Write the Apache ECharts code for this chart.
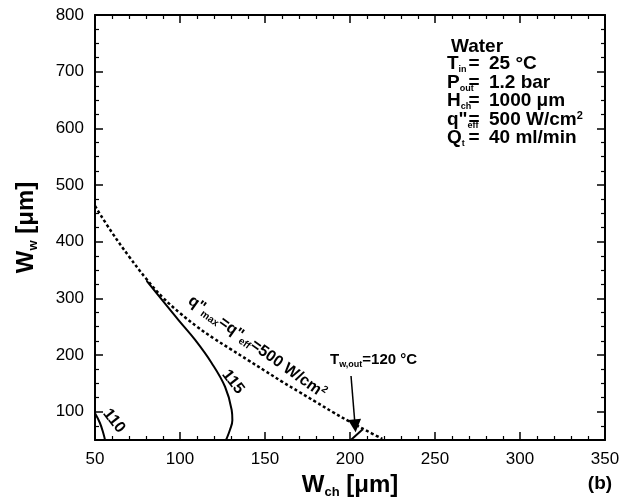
<!DOCTYPE html>
<html>
<head>
<meta charset="utf-8">
<script src="https://cdn.jsdelivr.net/npm/echarts@6/dist/echarts.min.js"></script>
<style>
html, body { margin: 0; padding: 0; background: #fff; }
#chart { width: 621px; height: 500px; }
</style>
</head>
<body>
<div id="chart"></div>
<script>
// curves, [W_ch, W_w] in um
let qmaxLine = [[50, 463], [60, 416], [70, 374], [80, 335], [90, 301], [100, 274], [110, 250], [120, 229],
                [130, 210], [140, 191], [150, 172], [160, 153], [170, 135], [180, 117], [190, 99], [200, 82],
                [210, 66], [219, 52]];
let t115 = [[80.4, 331], [89.2, 298], [99, 262], [108.8, 227], [118.6, 186], [126.5, 144], [130.4, 103],
            [130.8, 85], [129.4, 68], [127.5, 53], [126.8, 50]];
let t110 = [[50, 97], [52.9, 80], [54.9, 62], [55.9, 50]];
let t120 = [[200.5, 50], [207.5, 69]];
let arrow120 = [[200.6, 163], [203, 75]];

let infoNames = ['{m|T}{s|in}', '{m|P}{s|out}', '{m|H}{s|ch}', '{m|q"}{s|eff}', '{m|Q}{s|t}'];
let infoValues = ['25 °C', '1.2 bar', '1000 μm', '500 W/cm{p|2}', '40 ml/min'];

const FONT = '"Liberation Sans", Arial, Helvetica, sans-serif';

let chart = echarts.init(document.getElementById('chart'));

function frameAxis(pos, isX, showLabel) {
    let ax = {
        type: 'value',
        position: pos,
        min: 50,
        axisLine: { show: true, onZero: false, lineStyle: { color: '#000', width: 2 } },
        axisTick: { show: true, inside: true, length: 8, lineStyle: { color: '#000', width: 1.5 } },
        minorTick: { show: true, splitNumber: isX ? 5 : 4, length: 4, lineStyle: { color: '#000', width: 1.2 } },
        splitLine: { show: false },
        axisLabel: {
            show: showLabel,
            color: '#000',
            fontSize: 17,
            fontFamily: FONT,
            margin: 11,
            formatter: function (v) { return (!isX && v === 50) ? '' : v; }
        }
    };
    if (isX) {
        ax.max = 350;
        ax.interval = 50;
    } else {
        ax.max = 800;
        ax.splitNumber = 8;
        ax.minInterval = 100;
        ax.maxInterval = 100;
    }
    return ax;
}

let nameStyle = {
    color: '#000', fontFamily: FONT, fontWeight: 'bold', fontSize: 24,
    rich: { s: { fontFamily: FONT, fontWeight: 'bold', fontSize: 13, padding: [14, 0, 0, 0], color: '#000' } }
};
let xBottom = frameAxis('bottom', true, true);
xBottom.name = 'W{s|ch} [μm]';
xBottom.nameLocation = 'middle';
xBottom.nameGap = 32;
xBottom.nameTextStyle = nameStyle;
let yLeft = frameAxis('left', false, true);
yLeft.name = 'W{s|w} [μm]';
yLeft.nameLocation = 'middle';
yLeft.nameGap = 55;
yLeft.nameTextStyle = nameStyle;

function lineSeries(data, dashed) {
    return {
        type: 'line',
        data: data,
        smooth: 0.4,
        showSymbol: false,
        symbol: 'none',
        silent: true,
        lineStyle: { color: '#000', width: dashed ? 2.5 : 2, type: dashed ? [3, 2.5] : 'solid' }
    };
}

let subRich = {
    m: { fontFamily: FONT, fontWeight: 'bold', fontSize: 19, fill: '#000', color: '#000' },
    s: { fontFamily: FONT, fontWeight: 'bold', fontSize: 9, padding: [12, 0, 0, 0], fill: '#000', color: '#000' },
    p: { fontFamily: FONT, fontWeight: 'bold', fontSize: 11, verticalAlign: 'top', fill: '#000', color: '#000' }
};

function txt(x, y, text, size, align, rot, rich) {
    return {
        type: 'text', x: x, y: y, rotation: rot || 0, silent: true,
        style: {
            text: text, fill: '#000', fontFamily: FONT, fontWeight: 'bold', fontSize: size,
            align: align, textAlign: align, verticalAlign: 'middle', textVerticalAlign: 'middle',
            rich: rich
        }
    };
}

let graphics = [txt(477, 47, 'Water', 19, 'center')];
let rowY = [64, 83, 101, 120, 138];
for (let i = 0; i < infoNames.length; i++) {
    graphics.push(txt(447, rowY[i], infoNames[i], 19, 'left', 0, subRich));
    graphics.push(txt(474, rowY[i], '=', 19, 'center'));
    graphics.push(txt(489, rowY[i], infoValues[i], 19, 'left', 0, subRich));
}

let annRich = {
    m: { fontFamily: FONT, fontWeight: 'bold', fontSize: 16, fill: '#000', color: '#000' },
    s: { fontFamily: FONT, fontWeight: 'bold', fontSize: 10, padding: [9, 0, 0, 0], fill: '#000', color: '#000' },
    p: { fontFamily: FONT, fontWeight: 'bold', fontSize: 10, verticalAlign: 'top', fill: '#000', color: '#000' }
};
graphics.push(txt(257, 347, '{m|q"}{s|max}{m|=q"}{s|eff}{m|=500 W/cm}{p|2}', 16, 'center', -0.62, annRich));
graphics.push(txt(233, 382, '115', 16, 'center', -0.91));
graphics.push(txt(114, 421, '110', 16, 'center', -0.91));
let smallRich = {
    m: { fontFamily: FONT, fontWeight: 'bold', fontSize: 15, fill: '#000', color: '#000' },
    s: { fontFamily: FONT, fontWeight: 'bold', fontSize: 9, padding: [9, 0, 0, 0], fill: '#000', color: '#000' }
};
graphics.push(txt(330, 360, '{m|T}{s|w,out}{m|=120 °C}', 15, 'left', 0, smallRich));
graphics.push(txt(600, 484, '(b)', 19, 'center'));

chart.setOption({
    animation: false,
    backgroundColor: '#fff',
    grid: { left: 95, right: 16, top: 15, bottom: 60, containLabel: false, outerBoundsMode: 'none' },
    xAxis: [xBottom, frameAxis('top', true, false)],
    yAxis: [yLeft, frameAxis('right', false, false)],
    series: [
        lineSeries(qmaxLine, true),
        lineSeries(t115, false),
        lineSeries(t110, false),
        lineSeries(t120, false),
        {
            type: 'lines',
            coordinateSystem: 'cartesian2d',
            xAxisIndex: 0,
            yAxisIndex: 0,
            symbol: ['none', 'triangle'],
            symbolSize: [8, 13],
            silent: true,
            lineStyle: { color: '#000', width: 1.5, opacity: 1 },
            data: [{ coords: arrow120 }]
        }
    ],
    graphic: graphics
});
</script>
</body>
</html>
